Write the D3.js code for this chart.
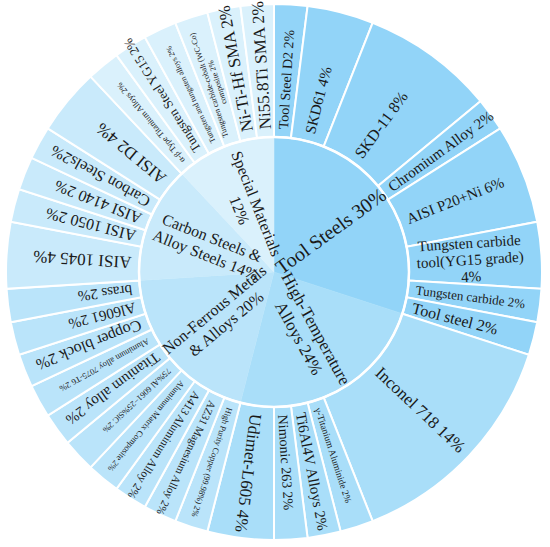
<!DOCTYPE html>
<html>
<head>
<meta charset="utf-8">
<script src="https://cdn.jsdelivr.net/npm/d3@7"></script>
<style>
  html, body { margin: 0; padding: 0; background: #fff; }
  svg { display: block; }
  text { font-family: "Liberation Serif", "DejaVu Serif", serif; fill: #1a1a1a; }
</style>
</head>
<body>
<svg id="chart" width="550" height="547"></svg>
<script>
// inner ring : material families
var groups = ["Tool Steels", "High-Temperature Alloys", "Non-Ferrous Metals & Alloys", "Carbon Steels & Alloy Steels", "Special Materials"];
var group_values = [30, 24, 20, 14, 12];
var group_labels = [
  ["Tool Steels 30%"],
  ["High-Temperature", "Alloys 24%"],
  ["Non-Ferrous Metals", "& Alloys 20%"],
  ["Carbon Steels &", "Alloy Steels 14%"],
  ["Special Materials", "12%"]
];

// outer ring : individual materials (clockwise from 12 o'clock)
var items = [
  "Tool Steel D2", "SKD61", "SKD-11", "Chromium Alloy", "AISI P20+Ni", "Tungsten carbide tool(YG15 grade)", "Tungsten carbide", "Tool steel",
  "Inconel 718", "γ-Titanium Aluminide", "Ti6Al4V Alloys", "Nimonic 263", "Udimet-L605",
  "High Purity Copper (99.98%)", "AZ31 Magnesium Alloy", "A413 Aluminum Alloy", "Aluminum Matrix Composite", "75%Al 6061-25%SiC", "Titanium alloy", "Aluminum alloy 7075-T6", "Copper block", "Al6061", "brass",
  "AISI 1045", "AISI 1050", "AISI 4140", "Carbon Steels", "AISI D2",
  "α-β Type Titanium Alloys", "Tungsten Steel YG15", "Tungsten and tungsten alloys", "Tungsten carbide-cobalt (WC-Co) composite", "Ni-Ti-Hf SMA", "Ni55.8Ti SMA"
];
var item_group = [
  0, 0, 0, 0, 0, 0, 0, 0,
  1, 1, 1, 1, 1,
  2, 2, 2, 2, 2, 2, 2, 2, 2, 2,
  3, 3, 3, 3, 3,
  4, 4, 4, 4, 4, 4
];
var item_values = [
  2, 4, 8, 2, 6, 4, 2, 2,
  14, 2, 2, 2, 4,
  2, 2, 2, 2, 2, 2, 2, 2, 2, 2,
  4, 2, 2, 2, 4,
  2, 2, 2, 2, 2, 2
];
var item_labels = [
  ["Tool Steel D2 2%"], ["SKD61 4%"], ["SKD-11 8%"], ["Chromium Alloy 2%"], ["AISI P20+Ni 6%"],
  ["Tungsten carbide", "tool(YG15 grade)", "4%"], ["Tungsten carbide 2%"], ["Tool steel 2%"],
  ["Inconel 718 14%"], ["γ-Titanium Aluminide 2%"], ["Ti6Al4V Alloys 2%"], ["Nimonic 263 2%"], ["Udimet-L605 4%"],
  ["High Purity Copper (99.98%) 2%"], ["AZ31 Magnesium Alloy 2%"], ["A413 Aluminum Alloy 2%"], ["Aluminum Matrix Composite 2%"],
  ["75%Al 6061−25%SiC 2%"], ["Titanium alloy 2%"], ["Aluminum alloy 7075-T6 2%"], ["Copper block 2%"], ["Al6061 2%"], ["brass 2%"],
  ["AISI 1045 4%"], ["AISI 1050 2%"], ["AISI 4140 2%"], ["Carbon Steels2%"], ["AISI D2 4%"],
  ["α-β Type Titanium Alloys 2%"], ["Tungsten Steel YG15 2%"], ["Tungsten and tungsten alloys 2%"],
  ["Tungsten carbide-cobalt (WC-Co)", "composite 2%"], ["Ni-Ti-Hf SMA 2%"], ["Ni55.8Ti SMA 2%"]
];

// styles
var group_colors = ["#92d4f8", "#a9def9", "#bae4fa", "#c9eafb", "#daf1fc"];
var group_font = [20, 17, 16, 16, 16];
var item_font = [
  14, 15, 16, 15, 15, 15, 13, 16,
  17, 9.5, 15, 14, 17,
  8.5, 11, 11.5, 8.5, 8.5, 15, 8.5, 16, 15, 15,
  17, 16, 16, 16, 17,
  8.5, 13, 8, 8, 17, 17
];

var width = 550, height = 547;
var cx = 274, cy = 272;
var r_inner = 135, r_outer = 268;

var svg = d3.select("#chart");
var g = svg.append("g").attr("transform", "translate(" + cx + "," + cy + ")");

var pie = d3.pie().sort(null).value(function(d) { return d; });
var group_arcs = pie(group_values);
var item_arcs = pie(item_values);

var arc_in = d3.arc().innerRadius(0).outerRadius(r_inner);
var arc_out = d3.arc().innerRadius(r_inner).outerRadius(r_outer);

g.selectAll("path.grp")
  .data(group_arcs)
  .enter().append("path")
  .attr("class", "grp")
  .attr("d", arc_in)
  .attr("fill", function(d, i) { return group_colors[i]; })
  .attr("stroke", function(d, i) { return group_colors[i]; })
  .attr("stroke-width", 0.5);

g.selectAll("path.itm")
  .data(item_arcs)
  .enter().append("path")
  .attr("class", "itm")
  .attr("d", arc_out)
  .attr("fill", function(d, i) { return group_colors[item_group[i]]; })
  .attr("stroke", "#fff")
  .attr("stroke-width", 2);

g.append("circle")
  .attr("r", r_inner)
  .attr("fill", "none")
  .attr("stroke", "#fff")
  .attr("stroke-width", 2.5);

function deg(a) { return a * 180 / Math.PI; }

// inner labels, flipped on the left half so they stay readable
group_arcs.forEach(function(d, i) {
  var mid = deg((d.startAngle + d.endAngle) / 2);
  var lines = group_labels[i];
  var flip = mid > 180;
  var t = g.append("text")
    .attr("transform", "rotate(" + (mid - 90) + ") translate(70,0)" + (flip ? " rotate(180)" : ""))
    .attr("text-anchor", "middle")
    .style("font-size", group_font[i] + "px");
  lines.forEach(function(line, k) {
    t.append("tspan")
      .attr("x", 0)
      .attr("y", (k - (lines.length - 1) / 2) * group_font[i] * 1.15)
      .attr("dy", "0.35em")
      .text(line);
  });
});

// outer labels, radial, reading outward, starting just past the inner ring
item_arcs.forEach(function(d, i) {
  var mid = deg((d.startAngle + d.endAngle) / 2);
  var lines = item_labels[i];
  var fs = item_font[i];
  var t = g.append("text")
    .attr("text-anchor", "middle")
    .style("font-size", fs + "px");
  var spans = lines.map(function(line, k) {
    return t.append("tspan")
      .attr("x", 0)
      .attr("y", (k - (lines.length - 1) / 2) * fs * 1.12)
      .attr("dy", "0.35em")
      .text(line);
  });
  var maxw = d3.max(spans, function(s) { return s.node().getComputedTextLength(); });
  var r = r_inner + 8 + maxw / 2;
  t.attr("transform", "rotate(" + (mid - 90) + ") translate(" + r + ",0)");
});
</script>
</body>
</html>
